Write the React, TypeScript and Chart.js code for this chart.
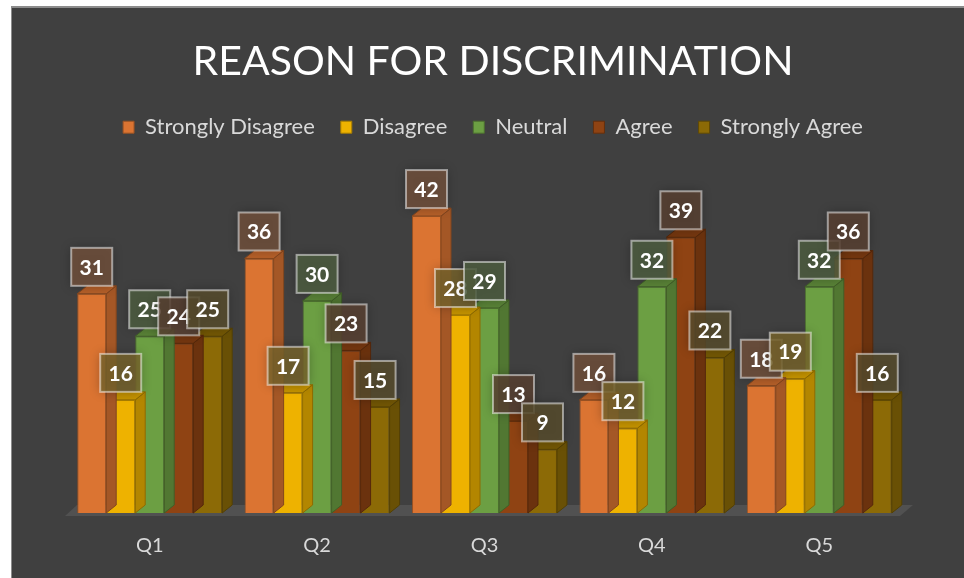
import React, { useEffect, useRef } from "react";
import { Chart, registerables } from "chart.js";

Chart.register(...registerables);

const titleText = "REASON FOR DISCRIMINATION";
const categories = ["Q1", "Q2", "Q3", "Q4", "Q5"];
const seriesNames = ["Strongly Disagree", "Disagree", "Neutral", "Agree", "Strongly Agree"];
const stronglyDisagree = [31, 36, 42, 16, 18];
const disagree = [16, 17, 28, 12, 19];
const neutral = [25, 30, 29, 32, 32];
const agree = [24, 23, 13, 39, 36];
const stronglyAgree = [25, 15, 9, 22, 16];

const seriesValues = [stronglyDisagree, disagree, neutral, agree, stronglyAgree];
const frontColors = ["#DB7432", "#EEB200", "#6C9F43", "#8F4313", "#8C6A06"];

const FONT = "Lato, 'Open Sans', sans-serif";
const DX = 10;
const DY = 8;

function shade(hex: string, f: number, a = 1): string {
  const n = parseInt(hex.slice(1), 16);
  const r = Math.round(((n >> 16) & 255) * f);
  const g = Math.round(((n >> 8) & 255) * f);
  const b = Math.round((n & 255) * f);
  return `rgba(${r},${g},${b},${a})`;
}

function mix(hex: string, a: number): string {
  const n = parseInt(hex.slice(1), 16);
  const r = Math.round(((n >> 16) & 255) * a + 64 * (1 - a));
  const g = Math.round(((n >> 8) & 255) * a + 64 * (1 - a));
  const b = Math.round((n & 255) * a + 64 * (1 - a));
  return `rgba(${r},${g},${b},0.82)`;
}

const floorPlugin = {
  id: "floor3d",
  beforeDatasetsDraw(chart: any) {
    const { ctx, chartArea } = chart;
    const { left, right, bottom } = chartArea;
    ctx.save();
    ctx.fillStyle = "rgba(255,255,255,0.09)";
    ctx.beginPath();
    ctx.moveTo(left - 1, bottom + 3);
    ctx.lineTo(right - 3, bottom + 3);
    ctx.lineTo(right + DX, bottom - DY);
    ctx.lineTo(left + 11, bottom - DY);
    ctx.closePath();
    ctx.fill();
    ctx.restore();
  },
};

const bar3dPlugin = {
  id: "bar3d",
  beforeDatasetDraw(chart: any, args: any) {
    const i = args.index;
    const meta = chart.getDatasetMeta(i);
    const ctx = chart.ctx;
    const base = frontColors[i];
    meta.data.forEach((el: any) => {
      const { x, y, base: b, width } = el.getProps(["x", "y", "base", "width"], true);
      const l = x - width / 2;
      const r = x + width / 2;
      ctx.save();
      ctx.lineWidth = 1;
      ctx.strokeStyle = shade(base, 0.6);
      ctx.fillStyle = shade(base, 0.75);
      ctx.beginPath();
      ctx.moveTo(r, b);
      ctx.lineTo(r + DX, b - DY);
      ctx.lineTo(r + DX, y - DY);
      ctx.lineTo(r, y);
      ctx.closePath();
      ctx.fill();
      ctx.stroke();
      ctx.fillStyle = shade(base, 0.82);
      ctx.beginPath();
      ctx.moveTo(l, y);
      ctx.lineTo(l + DX, y - DY);
      ctx.lineTo(r + DX, y - DY);
      ctx.lineTo(r, y);
      ctx.closePath();
      ctx.fill();
      ctx.stroke();
      ctx.restore();
    });
  },
};

const labelPlugin = {
  id: "boxLabels",
  afterDatasetsDraw(chart: any) {
    const ctx = chart.ctx;
    chart.data.datasets.forEach((ds: any, i: number) => {
      const meta = chart.getDatasetMeta(i);
      meta.data.forEach((el: any, j: number) => {
        const { x, y } = el.getProps(["x", "y"], true);
        const w = 41;
        const h = 38;
        const bx = x - w / 2;
        const by = y - 8 - h;
        ctx.save();
        ctx.shadowColor = "rgba(0,0,0,0.35)";
        ctx.shadowBlur = 10;
        ctx.fillStyle = mix(frontColors[i], 0.32);
        ctx.fillRect(bx, by, w, h);
        ctx.shadowColor = "transparent";
        ctx.shadowBlur = 0;
        ctx.strokeStyle = "rgba(255,255,255,0.5)";
        ctx.lineWidth = 2;
        ctx.strokeRect(bx, by, w, h);
        ctx.fillStyle = "#ffffff";
        ctx.font = `bold 21px ${FONT}`;
        ctx.textAlign = "center";
        ctx.textBaseline = "middle";
        ctx.fillText(String(ds.data[j]), x, by + h / 2 + 1);
        ctx.restore();
      });
    });
  },
};

export default function App() {
  const ref = useRef<HTMLCanvasElement | null>(null);

  useEffect(() => {
    if (!ref.current) return;
    const chart = new Chart(ref.current, {
      type: "bar",
      data: {
        labels: categories,
        datasets: seriesNames.map((name, i) => ({
          label: name,
          data: seriesValues[i],
          backgroundColor: frontColors[i],
          borderColor: shade(frontColors[i], 0.7),
          borderWidth: 1,
          categoryPercentage: 0.866,
          barPercentage: 1,
          yAxisID: "y",
        })),
      },
      options: {
        responsive: false,
        animation: false,
        devicePixelRatio: 1,
        layout: { padding: { top: 6, bottom: -1, left: 24, right: 2 } },
        scales: {
          x: {
            grid: { display: false, drawTicks: false },
            border: { display: false },
            ticks: { color: "#d9d9d9", font: { size: 20, family: FONT }, padding: 21 },
          },
          y: {
            min: 0,
            max: 51.6,
            position: "left",
            ticks: { display: false },
            grid: { display: false, drawTicks: false },
            border: { display: false },
            afterFit: (s: any) => {
              s.width = 42;
            },
          },
          y2: {
            min: 0,
            max: 51.6,
            position: "right",
            ticks: { display: false },
            grid: { display: false, drawTicks: false },
            border: { display: false },
            afterFit: (s: any) => {
              s.width = 59;
            },
          },
        },
        plugins: {
          title: {
            display: true,
            text: titleText,
            color: "#ffffff",
            font: { size: 41, family: FONT, weight: "normal" },
            padding: { top: 31, bottom: 4 },
          },
          legend: {
            position: "top",
            labels: {
              color: "#d9d9d9",
              font: { size: 22, family: FONT },
              boxWidth: 11,
              boxHeight: 12,
              padding: 26,
            },
          },
          tooltip: { enabled: false },
        },
      },
      plugins: [floorPlugin, bar3dPlugin, labelPlugin],
    });
    return () => chart.destroy();
  }, []);

  return (
    <div style={{ position: "absolute", left: 0, top: 0, width: 964, height: 578, background: "#ffffff", overflow: "hidden" }}>
      <div
        style={{
          position: "absolute",
          left: 11,
          top: 6,
          width: 953,
          height: 572,
          background: "#404040",
          borderTop: "2px solid #8c8c8c",
          borderLeft: "1px solid #8c8c8c",
          boxSizing: "border-box",
        }}
      />
      <canvas ref={ref} width={964} height={578} style={{ position: "absolute", left: 0, top: 0 }} />
    </div>
  );
}
